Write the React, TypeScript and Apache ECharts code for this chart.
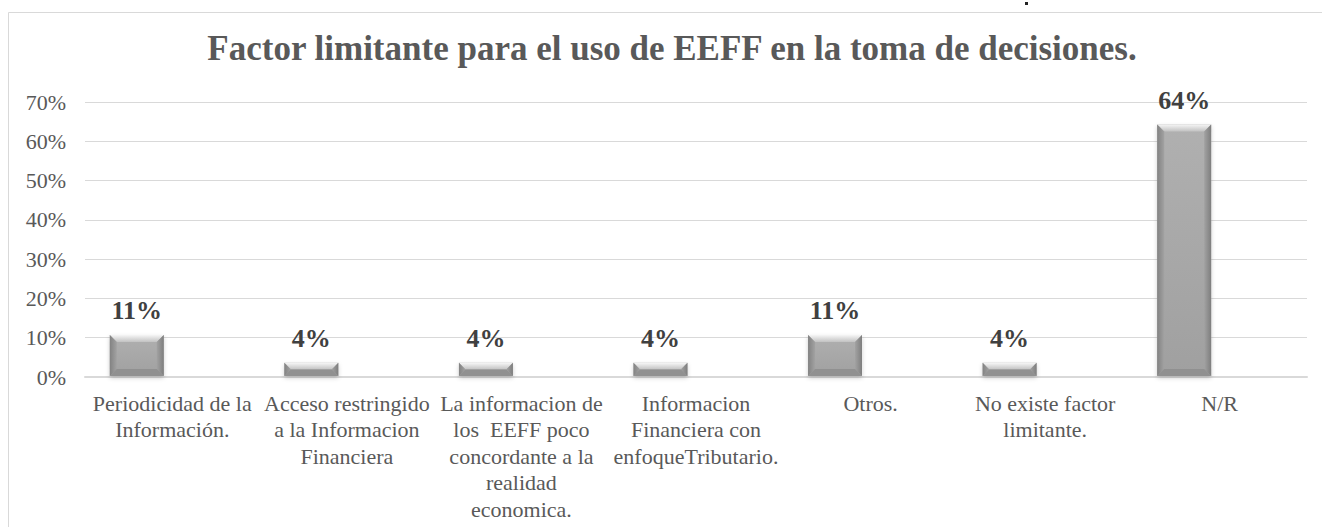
import React, { useEffect, useRef } from "react";
import * as echarts from "echarts";

const categories: string[] = [
  "Periodicidad de la\nInformación.",
  "Acceso restringido\na la Informacion\nFinanciera",
  "La informacion de\nlos  EEFF poco\nconcordante a la\nrealidad\neconomica.",
  "Informacion\nFinanciera con\nenfoqueTributario.",
  "Otros.",
  "No existe factor\nlimitante.",
  "N/R",
];
const values: number[] = [0.107, 0.036, 0.036, 0.036, 0.107, 0.036, 0.643];
const dataLabels: string[] = ["11%", "4%", "4%", "4%", "11%", "4%", "64%"];
const titleText = "Factor limitante para el uso de EEFF en la toma de decisiones.";

const FONT = "Liberation Serif";

export default function App() {
  const ref = useRef<HTMLDivElement>(null);
  useEffect(() => {
    document.body.style.margin = "0";
    const chart = echarts.init(ref.current!, null, { renderer: "svg" });
    const renderItem = (params: any, api: any) => {
      const idx = api.value(0);
      const val = api.value(1);
      const top = api.coord([idx, val]);
      const base = api.coord([idx, 0]);
      const band = api.size([1, 0])[0];
      const w = band * 0.309;
      const cx = top[0] - band * 0.2035;
      const x = cx - w / 2;
      const y = top[1];
      const y0 = base[1] - 1;
      const h = y0 - y;
      const b = Math.min(7, h / 2);
      return {
        type: "group",
        children: [
          {
            type: "rect",
            shape: { x: x, y: y, width: w, height: h },
            style: {
              fill: new echarts.graphic.LinearGradient(0, 0, 0, 1, [
                { offset: 0, color: "#b0b0b0" },
                { offset: 1, color: "#a0a0a0" },
              ]),
              shadowBlur: 4,
              shadowColor: "rgba(0,0,0,0.2)",
              shadowOffsetY: 2,
            },
          },
          {
            type: "polygon",
            shape: { points: [[x, y], [x + w, y], [x + w - b, y + b], [x + b, y + b]] },
            style: {
              fill: new echarts.graphic.LinearGradient(0, 0, 0, 1, [
                { offset: 0, color: "#f6f6f6" },
                { offset: 1, color: "#c2c2c2" },
              ]),
            },
          },
          {
            type: "polygon",
            shape: { points: [[x, y], [x + b, y + b], [x + b, y0 - b], [x, y0]] },
            style: {
              fill: new echarts.graphic.LinearGradient(0, 0, 1, 0, [
                { offset: 0, color: "#828282" },
                { offset: 1, color: "#a2a2a2" },
              ]),
            },
          },
          {
            type: "polygon",
            shape: { points: [[x + w, y], [x + w, y0], [x + w - b, y0 - b], [x + w - b, y + b]] },
            style: {
              fill: new echarts.graphic.LinearGradient(0, 0, 1, 0, [
                { offset: 0, color: "#a2a2a2" },
                { offset: 1, color: "#7e7e7e" },
              ]),
            },
          },
          {
            type: "polygon",
            shape: { points: [[x, y0], [x + b, y0 - b], [x + w - b, y0 - b], [x + w, y0]] },
            style: { fill: "#909090" },
          },
          {
            type: "text",
            style: {
              text: dataLabels[idx],
              x: cx,
              y: y - 11,
              align: "center",
              verticalAlign: "bottom",
              fill: "#404040",
              fontFamily: FONT,
              fontWeight: "bold",
              fontSize: 26,
            },
          },
        ],
      };
    };
    chart.setOption({
      animation: false,
      backgroundColor: "#ffffff",
      title: {
        text: titleText,
        left: 672,
        top: 31,
        textAlign: "center",
        padding: 0,
        textStyle: {
          fontFamily: FONT,
          fontWeight: "bold",
          fontSize: 35,
          color: "#595959",
        },
      },
      graphic: [
        {
          type: "rect",
          shape: { x: 8.5, y: 12.5, width: 1340, height: 600 },
          style: { fill: "none", stroke: "#d9d9d9", lineWidth: 1 },
          silent: true,
          z: -10,
        },
        {
          type: "rect",
          shape: { x: 1025, y: 2, width: 3, height: 3 },
          style: { fill: "#222222" },
          silent: true,
        },
      ],
      grid: { left: 85, right: 15, top: 102, bottom: 150, containLabel: false },
      xAxis: {
        type: "category",
        data: categories,
        axisTick: { show: false },
        axisLine: { lineStyle: { color: "#d9d9d9", width: 2 } },
        axisLabel: {
          interval: 0,
          margin: 13,
          fontFamily: FONT,
          fontSize: 22,
          lineHeight: 26.5,
          color: "#595959",
          align: "center",
        },
      },
      yAxis: {
        type: "value",
        min: 0,
        max: 0.7,
        interval: 0.1,
        axisLine: { show: false },
        axisTick: { show: false },
        splitLine: { lineStyle: { color: "#d9d9d9", width: 1 } },
        axisLabel: {
          margin: 19,
          fontFamily: FONT,
          fontSize: 22,
          color: "#595959",
          formatter: (v: number) => Math.round(v * 100) + "%",
        },
      },
      series: [
        {
          type: "custom",
          renderItem: renderItem,
          encode: { x: 0, y: 1 },
          data: values.map((v, i) => [i, v]),
          z: 5,
        },
      ],
    });
    return () => chart.dispose();
  }, []);
  return <div ref={ref} style={{ width: 1322, height: 527 }} />;
}
